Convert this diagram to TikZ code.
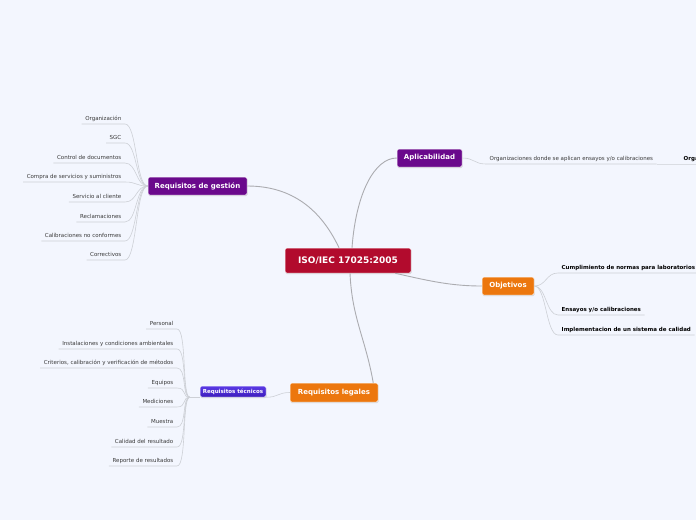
\documentclass[tikz,border=0pt]{standalone}
\usepackage{fontspec}
\setmainfont{DejaVu Sans}
\usepackage{xcolor}
\usetikzlibrary{calc, shadows}

\definecolor{bgcol}{HTML}{F3F6FE}
\definecolor{rootred}{HTML}{B20B2D}
\definecolor{branchpurple}{HTML}{6A098C}
\definecolor{branchorange}{HTML}{EC770E}
\definecolor{techtop}{HTML}{5A3AE6}
\definecolor{techbot}{HTML}{3C1CBB}
\definecolor{limbgray}{HTML}{ABACB0}
\definecolor{twiggray}{HTML}{CDD0D6}
\definecolor{leaftext}{HTML}{3A3A3A}

\begin{document}
\begin{tikzpicture}[
    x=1pt, y=-1pt,
    box/.style={draw=white, line width=0.5pt, rounded corners=1.5pt, text=white,
                inner sep=0pt, align=center,
                drop shadow={shadow xshift=0.5pt, shadow yshift=-1.2pt, opacity=0.3}},
    root/.style={box, fill=rootred, minimum width=126pt, minimum height=25pt,
                 font=\fontsize{9}{10}\selectfont\bfseries},
    mainpurple/.style={box, fill=branchpurple, minimum height=18pt,
                       font=\fontsize{7}{8}\selectfont\bfseries},
    mainorange/.style={box, fill=branchorange, minimum height=18pt,
                       font=\fontsize{7}{8}\selectfont\bfseries},
    subblue/.style={box, top color=techtop, bottom color=techbot, minimum height=11pt,
                    font=\fontsize{5.5}{6}\selectfont\bfseries},
    leaf/.style={inner xsep=3.5pt, inner ysep=2.5pt, text height=4.1pt, text depth=1.2pt,
                 font=\fontsize{5.5}{6}\selectfont, text=leaftext},
    leafbold/.style={leaf, font=\fontsize{5.5}{6}\selectfont\bfseries, text=black},
    limb/.style={draw=limbgray, line width=0.9pt},
    twig/.style={draw=twiggray, line width=0.6pt},
]

\path[use as bounding box, fill=bgcol] (0,0) rectangle (696,520);
\clip (0,0) rectangle (696,520);

% --------- Main topics ----------
\node[root] (iso) at (348,260.5) {ISO/IEC 17025:2005};
\node[mainpurple, minimum width=99pt] (gestion) at (197.5,186) {Requisitos de gestión};
\node[mainpurple, minimum width=65pt] (aplic)   at (429.5,158) {Aplicabilidad};
\node[mainorange, minimum width=52pt] (objet)   at (508,286)   {Objetivos};
\node[mainorange, minimum width=88pt, minimum height=19pt] (legales) at (334,392.5) {Requisitos legales};
\node[subblue, minimum width=66pt] (tecnicos) at (233,391.5) {Requisitos técnicos};

\draw[limb] ($(iso.north)+(-9,0)$) .. controls +(-18,-38) and +(45,0) .. (gestion.east);
\draw[limb] ($(iso.north)+(4,0)$) .. controls +(4,-55) and +(-22,0) .. (aplic.west);
\draw[limb] ($(iso.south east)+(-16,0)$) .. controls +(35,8) and +(-30,0) .. (objet.west);
\draw[limb] ($(iso.south)+(2,0)$) .. controls +(2,45) and +(-8,-45) .. ($(legales.north east)+(-5,0)$);
\draw[twig] (tecnicos.south east) .. controls +(12,0) and +(-12,0) .. (legales.west);

% --------- Requisitos de gestion ----------
\node[leaf, anchor=south east] (organiz)  at (125,124) {Organización};
\node[leaf, anchor=south east] (sgc)      at (125,143) {SGC};
\node[leaf, anchor=south east] (controld) at (125,163) {Control de documentos};
\node[leaf, anchor=south east] (compra)   at (125,182) {Compra de servicios y suministros};
\node[leaf, anchor=south east] (servicio) at (125,202) {Servicio al cliente};
\node[leaf, anchor=south east] (reclam)   at (125,222) {Reclamaciones};
\node[leaf, anchor=south east] (calibnc)  at (125,241) {Calibraciones no conformes};
\node[leaf, anchor=south east] (correct)  at (125,260) {Correctivos};

\draw[twig] (organiz.south west)  -- (organiz.south east)  .. controls +(12,0) and +(-12,0) .. (gestion.west);
\draw[twig] (sgc.south west)      -- (sgc.south east)      .. controls +(12,0) and +(-12,0) .. (gestion.west);
\draw[twig] (controld.south west) -- (controld.south east) .. controls +(12,0) and +(-12,0) .. (gestion.west);
\draw[twig] (compra.south west)   -- (compra.south east)   .. controls +(12,0) and +(-12,0) .. (gestion.west);
\draw[twig] (servicio.south west) -- (servicio.south east) .. controls +(12,0) and +(-12,0) .. (gestion.west);
\draw[twig] (reclam.south west)   -- (reclam.south east)   .. controls +(12,0) and +(-12,0) .. (gestion.west);
\draw[twig] (calibnc.south west)  -- (calibnc.south east)  .. controls +(12,0) and +(-12,0) .. (gestion.west);
\draw[twig] (correct.south west)  -- (correct.south east)  .. controls +(12,0) and +(-12,0) .. (gestion.west);

% --------- Requisitos tecnicos ----------
\coordinate (tecroot) at ($(tecnicos.south west)+(-10,0)$);
\node[leaf, anchor=south east] (personal) at (177,329) {Personal};
\node[leaf, anchor=south east] (instal)   at (177,349) {Instalaciones y condiciones ambientales};
\node[leaf, anchor=south east] (criter)   at (177,368) {Criterios, calibración y verificación de métodos};
\node[leaf, anchor=south east] (equipos)  at (177,388) {Equipos};
\node[leaf, anchor=south east] (medic)    at (177,407) {Mediciones};
\node[leaf, anchor=south east] (muestra)  at (177,427) {Muestra};
\node[leaf, anchor=south east] (calidad)  at (177,447) {Calidad del resultado};
\node[leaf, anchor=south east] (reporte)  at (177,466) {Reporte de resultados};

\draw[twig] (tecroot) -- (tecnicos.south west);
\draw[twig] (personal.south west) -- (personal.south east) .. controls +(10,0) and +(-8,0) .. (tecroot);
\draw[twig] (instal.south west)   -- (instal.south east)   .. controls +(10,0) and +(-8,0) .. (tecroot);
\draw[twig] (criter.south west)   -- (criter.south east)   .. controls +(10,0) and +(-8,0) .. (tecroot);
\draw[twig] (equipos.south west)  -- (equipos.south east)  .. controls +(10,0) and +(-8,0) .. (tecroot);
\draw[twig] (medic.south west)    -- (medic.south east)    .. controls +(10,0) and +(-8,0) .. (tecroot);
\draw[twig] (muestra.south west)  -- (muestra.south east)  .. controls +(10,0) and +(-8,0) .. (tecroot);
\draw[twig] (calidad.south west)  -- (calidad.south east)  .. controls +(10,0) and +(-8,0) .. (tecroot);
\draw[twig] (reporte.south west)  -- (reporte.south east)  .. controls +(10,0) and +(-8,0) .. (tecroot);

% --------- Aplicabilidad ----------
\node[leaf, anchor=south west]     (orgs)    at (486,164) {Organizaciones donde se aplican ensayos y/o calibraciones};
\node[leafbold, anchor=south west] (orgsub)  at (680,164) {Organizaciones};
\draw[twig] (aplic.east) .. controls +(12,0) and +(-12,0) .. (orgs.south west) -- (orgs.south east);
\draw[twig] (orgs.south east) -- (orgsub.south west) -- (orgsub.south east);

% --------- Objetivos ----------
\node[leafbold, anchor=south west] (cumpl)   at (558,273) {Cumplimiento de normas para laboratorios};
\node[leafbold, anchor=south west] (ensayos) at (558,315) {Ensayos y/o calibraciones};
\node[leafbold, anchor=south west] (implem)  at (558,335) {Implementacion de un sistema de calidad};

\draw[twig] (objet.east) .. controls +(12,0) and +(-12,0) .. (cumpl.south west)   -- (cumpl.south east);
\draw[twig] (objet.east) .. controls +(12,0) and +(-12,0) .. (ensayos.south west) -- (ensayos.south east);
\draw[twig] (objet.east) .. controls +(12,0) and +(-12,0) .. (implem.south west)  -- (implem.south east);

\end{tikzpicture}
\end{document}
